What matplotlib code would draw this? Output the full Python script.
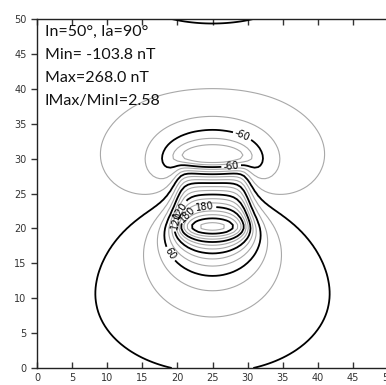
import numpy as np
import matplotlib
matplotlib.use("Agg")
import matplotlib.pyplot as plt

# ---- model parameters ----
field_inclination = 50.0   # In (deg)
field_azimuth = 90.0       # Ia (deg from x axis): horizontal component along +y
peak_nt = 268.0            # Max of the anomaly
prism_x = [20.0, 30.0]
prism_y = [20.0, 30.0]
prism_z = [1.0, 2.0]
minor_levels = [-100, -80, -40, -20, 20, 40, 80, 100, 140, 160, 200, 220, 260]
major_levels = [-60, 0, 60, 120, 180, 240]
info_lines = ["In=50°, Ia=90°", "Min= -103.8 nT", "Max=268.0 nT", "IMax/MinI=2.58"]
tick_values = list(range(0, 51, 5))


def anomaly(zt, zb, dx=0.5, period=50.0):
    n = int(round(period / dx))
    coords = dx * np.arange(n + 1)
    k1 = 2 * np.pi * np.fft.fftfreq(n, dx)
    KX, KY = np.meshgrid(k1, k1)
    K = np.hypot(KX, KY)
    Ks = np.where(K == 0, 1.0, K)

    def rect_ft(k, lo, hi):
        a = (hi - lo) / 2
        c = (hi + lo) / 2
        ks = np.where(k == 0, 1.0, k)
        s = np.where(k == 0, 2 * a, 2 * np.sin(ks * a) / ks)
        return s * np.exp(-1j * k * c)

    fi = np.radians(field_inclination)
    az = np.radians(field_azimuth)
    ux, uy, uz = np.cos(fi) * np.cos(az), np.cos(fi) * np.sin(az), np.sin(fi)
    theta = uz + 1j * (KX * ux + KY * uy) / Ks
    shape_ft = rect_ft(KX, *prism_x) * rect_ft(KY, *prism_y)
    depth_term = (np.exp(-K * zt) - np.exp(-K * zb)) / Ks
    spec = 2 * np.pi * theta * theta * depth_term * shape_ft
    spec[K == 0] = 0
    f = np.real(np.fft.ifft2(spec))
    f = np.vstack([f, f[:1]])
    f = np.hstack([f, f[:, :1]])
    return coords, f * peak_nt / f.max()


gx, field = anomaly(*prism_z)
GX, GY = np.meshgrid(gx, gx)

fig = plt.figure(figsize=(3.86, 3.85), dpi=100)
ax = fig.add_axes([37 / 386, 1 - 368 / 385, 351 / 386, 349 / 385])

ax.contour(GX, GY, field, levels=minor_levels, colors="#a8a8a8", linewidths=0.8,
           linestyles="solid")
cs = ax.contour(GX, GY, field, levels=major_levels, colors="black", linewidths=1.3,
                linestyles="solid")
manual = [(29.0, 32.7), (27.6, 29.5), (24.0, 22.6), (19.6, 21.2), (20.3, 21.9), (21.0, 22.5), (19.4, 16.6)]
ax.clabel(cs, fmt="%d", fontsize=7, manual=manual, inline=True, inline_spacing=2)

ax.set_xlim(0, 50)
ax.set_ylim(0, 50)
ax.set_xticks(tick_values)
ax.set_yticks(tick_values)
ax.tick_params(axis="x", direction="in", length=4, width=1, labelsize=7, colors="#333333",
               top=True, labeltop=False)
ax.tick_params(axis="y", direction="out", length=4, width=1, labelsize=7, colors="#333333")
for s in ["left", "bottom", "top"]:
    ax.spines[s].set_color("#222222")
    ax.spines[s].set_linewidth(1.0)
ax.spines["right"].set_visible(False)

for k, line in enumerate(info_lines):
    ax.text(45 / 386, 1 - (32 + 23 * k) / 385, line, transform=fig.transFigure,
            fontsize=11.5, family=["Lato", "DejaVu Sans"], va="center", ha="left", color="#111111")

fig.savefig("out.png", dpi=100)
